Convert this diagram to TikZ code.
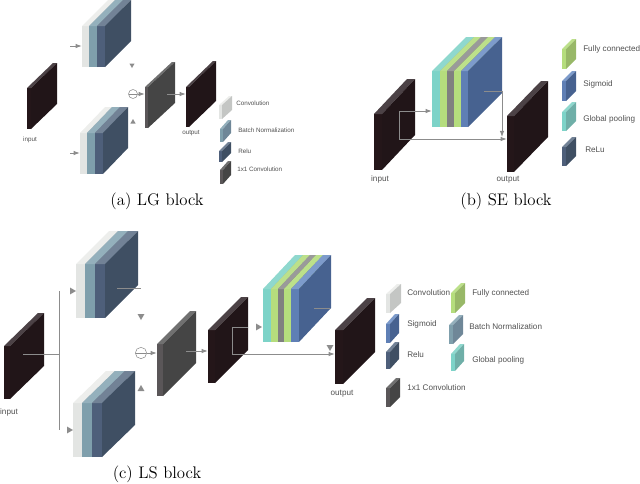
\documentclass[tikz,border=0pt]{standalone}
\usepackage{fontspec}
\usetikzlibrary{arrows.meta, positioning, fit, shapes.geometric}
\newfontfamily\labelfont{Liberation Sans}

\definecolor{inkF}{HTML}{241619}\definecolor{inkT}{HTML}{4C4246}\definecolor{inkS}{HTML}{211518}
\definecolor{oneF}{HTML}{5A5658}\definecolor{oneT}{HTML}{707070}\definecolor{oneS}{HTML}{454545}
\definecolor{convF}{HTML}{E3E5E3}\definecolor{convT}{HTML}{EDEEEC}\definecolor{convS}{HTML}{C4C6C4}
\definecolor{normF}{HTML}{7F9FAC}\definecolor{normT}{HTML}{94B0BC}\definecolor{normS}{HTML}{6F8798}
\definecolor{reluF}{HTML}{4E5F7A}\definecolor{reluT}{HTML}{728296}\definecolor{reluS}{HTML}{3F4F63}
\definecolor{poolF}{HTML}{7DD3C8}\definecolor{poolT}{HTML}{8FD8CE}\definecolor{poolS}{HTML}{6FAFA8}
\definecolor{fullF}{HTML}{B5DD7D}\definecolor{fullT}{HTML}{BCE08A}\definecolor{fullS}{HTML}{98B868}
\definecolor{grayF}{HTML}{808080}\definecolor{grayT}{HTML}{9A9A9A}\definecolor{grayS}{HTML}{707070}
\definecolor{sigmF}{HTML}{5F7FB5}\definecolor{sigmT}{HTML}{7D9BCB}\definecolor{sigmS}{HTML}{476290}
\definecolor{flowgray}{HTML}{8C8C8C}
\definecolor{labelgray}{HTML}{505050}

% name, left, front right, bottom, front height, depth x, depth y, colour
\newcommand{\cuboid}[8]{
  \fill[#8F] (#2,#4) rectangle (#3,#4-#5);
  \fill[#8T] (#2,#4-#5) -- ++(#6,-#7) -- (#3+#6,#4-#5-#7) -- (#3,#4-#5) -- cycle;
  \fill[#8S] (#3,#4) -- (#3,#4-#5) -- ++(#6,-#7) -- ++(0,#5) -- cycle;
  \coordinate (#1-a) at (#2,#4);
  \coordinate (#1-b) at (#3+#6,#4-#5-#7);
  \node[fit=(#1-a)(#1-b), inner sep=0pt] (#1) {};
}

\begin{document}
\begin{tikzpicture}[
  x=0.75pt, y=-0.75pt,
  every node/.style = {text=labelgray},
  flow/.style = {draw=flowgray, line width=0.7pt},
  arrow/.style = {flow, -{Latex[length=1.6mm]}},
  tip/.style = {regular polygon, regular polygon sides=3, fill=flowgray, inner sep=0pt, minimum size=6pt},
  sum/.style = {circle, draw=flowgray, inner sep=0pt, line width=0.4pt, path picture={\draw[flowgray, line width=0.4pt] (path picture bounding box.west) -- (path picture bounding box.east);}},
  tiny/.style = {font=\labelfont\fontsize{4.7}{6}\selectfont, inner sep=0pt},
  small/.style = {font=\labelfont\fontsize{6.1}{7}\selectfont, inner sep=0pt},
  caption/.style = {font=\fontsize{12.6}{15}\selectfont, text=black, inner sep=0pt}
]
  \useasboundingbox (0,0) rectangle (640,483);

  % LG block
  \cuboid{lgin}{27}{31}{129}{41}{26}{25}{ink}
  \cuboid{lgtopa}{82}{89}{67}{41}{26}{26}{conv}
  \cuboid{lgtopb}{89}{97}{67}{41}{26}{26}{norm}
  \cuboid{lgtopc}{97}{105}{67}{41}{26}{26}{relu}
  \cuboid{lgbota}{80}{87}{174}{41}{25}{26}{conv}
  \cuboid{lgbotb}{87}{95}{174}{41}{25}{26}{norm}
  \cuboid{lgbotc}{95}{103}{174}{41}{25}{26}{relu}
  \cuboid{lgconv}{145}{148}{128}{41}{27}{25}{one}
  \cuboid{lgout}{186}{189}{127}{40}{27}{26}{ink}

  \coordinate (lgtopin) at (70,46);
  \coordinate (lgbotin) at (70,153);
  \coordinate (lgtap) at (167,94);
  \node[sum, minimum size=6.75pt] (lgsum) at (133,94) {};
  \node[tip, minimum size=4.5pt, shape border rotate=180] (lgdown) at (132,65) {};
  \node[tip, minimum size=4.5pt] (lgup) at (133,122) {};
  \draw[arrow] (lgtopin) -- (lgtopa.west |- lgtopin);
  \draw[arrow] (lgbotin) -- (lgbota.west |- lgbotin);
  \draw[arrow] (lgsum) -- (lgconv.west |- lgsum);
  \draw[arrow] (lgtap) -- (lgout.west |- lgtap);

  \node[tiny] (lginlabel) at (30,140) {input};
  \node[tiny] (lgoutlabel) at (191,133) {output};

  \cuboid{lgkeya}{219}{222}{119}{14}{10}{9}{conv}
  \cuboid{lgkeyb}{220}{223}{142}{13}{8}{9}{norm}
  \cuboid{lgkeyc}{219}{222}{162}{11}{9}{9}{relu}
  \cuboid{lgkeyd}{220}{223}{184}{14}{8}{9}{one}
  \node[tiny, anchor=west] (lgtexta) at (236,103) {Convolution};
  \node[tiny, anchor=west] (lgtextb) at (238,130) {Batch Normalization};
  \node[tiny, anchor=west] (lgtextc) at (238,151) {Relu};
  \node[tiny, anchor=west] (lgtextd) at (237,169) {1x1 Convolution};
  \node[caption] (lgcaption) at (157,201) {(a) LG block};

  % SE block
  \cuboid{sein}{374}{382}{170}{56}{33}{35}{ink}
  \cuboid{sestacka}{432}{440}{127}{56}{34}{34}{pool}
  \cuboid{sestackb}{440}{447}{127}{56}{34}{34}{full}
  \cuboid{sestackc}{447}{454}{127}{56}{34}{34}{gray}
  \cuboid{sestackd}{454}{461}{127}{56}{34}{34}{full}
  \cuboid{sestacke}{461}{468}{127}{56}{34}{34}{sigm}
  \cuboid{seout}{507}{514}{172}{56}{34}{35}{ink}

  \coordinate (sestart) at (399,139);
  \coordinate (sebend) at (399,111);
  \coordinate (setap) at (484,91);
  \coordinate (secorner) at (502,91);
  \coordinate (sedrop) at (502,137);
  \draw[arrow] (sestart) -- (sebend) -- (sestacka.west |- sebend);
  \draw[arrow] (sestart) -- (seout.west |- sestart);
  \draw[arrow] (setap) -- (secorner) -- (sedrop);

  \node[small] (seinlabel) at (380,179) {input};
  \node[small] (seoutlabel) at (508,180) {output};

  \cuboid{sekeya}{562}{566}{69}{20}{10}{10}{full}
  \cuboid{sekeyb}{562}{566}{101}{20}{10}{10}{sigm}
  \cuboid{sekeyc}{562}{566}{131}{19}{10}{10}{pool}
  \cuboid{sekeyd}{562}{566}{166}{19}{10}{10}{relu}
  \node[small, anchor=west] (setexta) at (583,49) {Fully connected};
  \node[small, anchor=west] (setextb) at (583,84) {Sigmoid};
  \node[small, anchor=west] (setextc) at (583,119) {Global pooling};
  \node[small, anchor=west] (setextd) at (585,150) {ReLu};
  \node[caption] (secaption) at (506,201) {(b) SE block};

  % LS block
  \cuboid{lsin}{4}{10}{399}{53}{34}{33}{ink}
  \cuboid{lstopa}{76}{85}{318}{54}{33}{33}{conv}
  \cuboid{lstopb}{85}{95}{318}{54}{33}{33}{norm}
  \cuboid{lstopc}{95}{105}{318}{54}{33}{33}{relu}
  \cuboid{lsbota}{73}{82}{457}{54}{33}{32}{conv}
  \cuboid{lsbotb}{82}{92}{457}{54}{33}{32}{norm}
  \cuboid{lsbotc}{92}{102}{457}{54}{33}{32}{relu}
  \cuboid{lsconv}{157}{163}{396}{52}{33}{33}{one}
  \cuboid{lsmid}{208}{215}{383}{53}{33}{33}{ink}
  \cuboid{lsstacka}{263}{271}{342}{53}{32}{34}{pool}
  \cuboid{lsstackb}{271}{278}{342}{53}{32}{34}{full}
  \cuboid{lsstackc}{278}{284}{342}{53}{32}{34}{gray}
  \cuboid{lsstackd}{284}{291}{342}{53}{32}{34}{full}
  \cuboid{lsstacke}{291}{299}{342}{53}{32}{34}{sigm}
  \cuboid{lsout}{335}{343}{384}{54}{32}{32}{ink}

  \coordinate (lstap) at (23,354);
  \coordinate (lsjoin) at (59,354);
  \coordinate (lsrailtop) at (59,291);
  \coordinate (lsrailbot) at (59,430);
  \coordinate (lstopend) at (117,288);
  \coordinate (lstopout) at (141,288);
  \coordinate (lsconvtap) at (186,351);
  \coordinate (lsskip) at (232,354);
  \coordinate (lsskiptop) at (232,327);
  \coordinate (lsskipend) at (248,327);
  \coordinate (lsstacktap) at (314,308);
  \coordinate (lsstackout) at (330,308);
  \node[sum, minimum size=8.5pt] (lssum) at (141,353) {};
  \node[tip, shape border rotate=-90] (lstopin) at (72,291) {};
  \node[tip, shape border rotate=-90] (lsbotin) at (69,430) {};
  \node[tip, shape border rotate=180] (lsdown) at (141,316) {};
  \node[tip] (lsup) at (141,389) {};
  \node[tip, shape border rotate=-90] (lsmidtip) at (258,327) {};
  \node[tip, shape border rotate=180] (lsouttip) at (330,347) {};
  \draw[flow] (lstap) -- (lsjoin);
  \draw[flow] (lsrailtop) -- (lsrailbot);
  \draw[flow] (lstopend) -- (lstopout);
  \draw[arrow] (lssum) -- (lsconv.west |- lssum);
  \draw[arrow] (lsconvtap) -- (lsmid.west |- lsconvtap);
  \draw[flow] (lsskipend) -- (lsskiptop) -- (lsskip);
  \draw[arrow] (lsskip) -- (lsout.west |- lsskip);
  \draw[flow] (lsstacktap) -- (lsstackout);

  \node[small] (lsinlabel) at (9,412) {input};
  \node[small] (lsoutlabel) at (342,394) {output};

  \cuboid{lskeya}{386}{390}{313}{19}{11}{10}{conv}
  \cuboid{lskeyb}{386}{390}{343}{19}{9}{10}{sigm}
  \cuboid{lskeyc}{386}{390}{369}{17}{9}{10}{relu}
  \cuboid{lskeyd}{386}{390}{407}{19}{10}{10}{one}
  \cuboid{lskeye}{451}{455}{313}{20}{10}{10}{full}
  \cuboid{lskeyf}{449}{453}{344}{19}{10}{10}{norm}
  \cuboid{lskeyg}{451}{455}{371}{17}{9}{10}{pool}
  \node[small, anchor=west] (lstexta) at (407,293) {Convolution};
  \node[small, anchor=west] (lstextb) at (407,324) {Sigmoid};
  \node[small, anchor=west] (lstextc) at (407,355) {Relu};
  \node[small, anchor=west] (lstextd) at (407,388) {1x1 Convolution};
  \node[small, anchor=west] (lstexte) at (472,293) {Fully connected};
  \node[small, anchor=west] (lstextf) at (469,327) {Batch Normalization};
  \node[small, anchor=west] (lstextg) at (472,360) {Global pooling};
  \node[caption] (lscaption) at (157,474) {(c) LS block};
\end{tikzpicture}
\end{document}
